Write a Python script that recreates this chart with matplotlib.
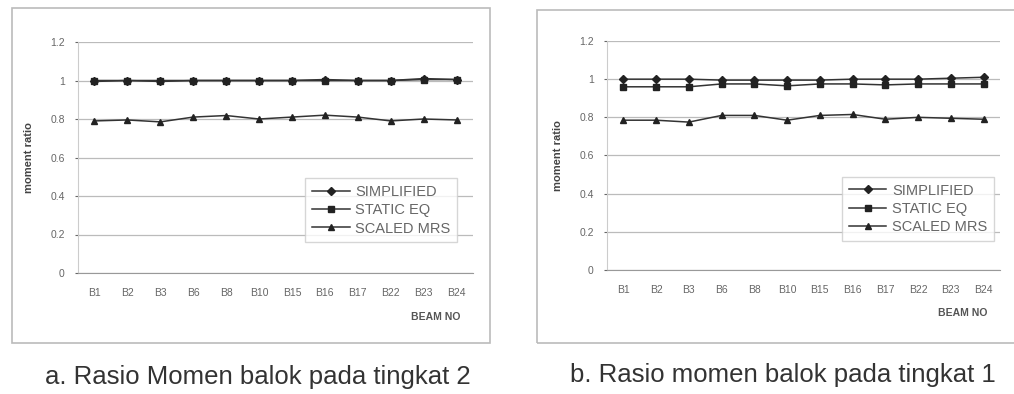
import numpy as np
import matplotlib
matplotlib.use("Agg")
import matplotlib.pyplot as plt
from matplotlib.patches import Rectangle

plt.rcParams['font.family'] = ['Liberation Sans', 'DejaVu Sans']

beams = ['B1', 'B2', 'B3', 'B6', 'B8', 'B10', 'B15', 'B16', 'B17', 'B22', 'B23', 'B24']
series_names = ['SIMPLIFIED', 'STATIC EQ', 'SCALED MRS']

# tingkat 2 (left)
simplified_2 = [1.00, 1.00, 1.00, 1.00, 1.00, 1.00, 1.00, 1.005, 1.00, 1.00, 1.01, 1.005]
static_2 = [0.995, 1.00, 0.995, 1.00, 1.00, 1.00, 1.00, 1.00, 1.00, 1.00, 1.005, 1.005]
scaled_2 = [0.79, 0.795, 0.785, 0.81, 0.818, 0.80, 0.81, 0.82, 0.81, 0.79, 0.80, 0.795]

# tingkat 1 (right)
simplified_1 = [1.00, 1.00, 1.00, 0.995, 0.995, 0.995, 0.995, 1.00, 1.00, 1.00, 1.005, 1.01]
static_1 = [0.96, 0.96, 0.96, 0.975, 0.975, 0.965, 0.975, 0.975, 0.97, 0.975, 0.975, 0.975]
scaled_1 = [0.785, 0.785, 0.775, 0.81, 0.81, 0.785, 0.81, 0.815, 0.79, 0.80, 0.795, 0.79]

captions = ['a. Rasio Momen balok pada tingkat 2', 'b. Rasio momen balok pada tingkat 1']
W, H = 1014, 394


def px_axes(fig, x0, y0, x1, y1):
    return fig.add_axes([x0 / W, (H - y1) / H, (x1 - x0) / W, (y1 - y0) / H])


def draw_panel(ax, data, legend_pos, beam_y):
    x = np.arange(len(beams))
    markers = ['D', 's', '^']
    for vals, name, m in zip(data, series_names, markers):
        ax.plot(x, vals, color='#333333', lw=1.1, marker=m, ms=4.5,
                mfc='#222222', mec='#222222', label=name)
    ax.set_xlim(-0.5, len(beams) - 0.5)
    ax.set_ylim(0, 1.2)
    ax.set_yticks(np.arange(0, 1.21, 0.2))
    ax.set_yticklabels(['0', '0.2', '0.4', '0.6', '0.8', '1', '1.2'])
    ax.set_xticks(x)
    ax.set_xticklabels(beams)
    ax.grid(axis='y', color='#bbbbbb', lw=0.9)
    ax.set_axisbelow(True)
    for s in ['top', 'right']:
        ax.spines[s].set_visible(False)
    ax.spines['left'].set_color('#cccccc')
    ax.spines['bottom'].set_color('#999999')
    ax.tick_params(axis='y', labelsize=7.5, colors='#666666', length=2.5, pad=7)
    ax.tick_params(axis='x', labelsize=7.5, colors='#666666', length=0, pad=11)
    ax.set_ylabel('moment ratio', fontsize=8, color='#444444', fontweight='bold', labelpad=12)
    ax.text(0.968, beam_y, 'BEAM NO', transform=ax.transAxes, ha='right', va='center',
            fontsize=7.5, fontweight='bold', color='#555555')
    leg = ax.legend(loc='upper left', bbox_to_anchor=legend_pos, fontsize=10.5,
                    frameon=True, fancybox=False, edgecolor='#cccccc',
                    handlelength=2.6, labelspacing=0.3, borderpad=0.45,
                    handletextpad=0.4, borderaxespad=0)
    for t in leg.get_texts():
        t.set_color('#666666')


fig = plt.figure(figsize=(W / 100, H / 100), dpi=100)
fig.patch.set_facecolor('white')

# chart frames
fig.patches.append(Rectangle((12 / W, (H - 343) / H), (490 - 12) / W, (343 - 8) / H,
                             transform=fig.transFigure, fill=False, ec='#bbbbbb', lw=1.2))
fig.patches.append(Rectangle((537 / W, (H - 343) / H), (1020 - 537) / W, (343 - 10) / H,
                             transform=fig.transFigure, fill=False, ec='#bbbbbb', lw=1.2))

ax1 = px_axes(fig, 78, 42, 473, 273)
draw_panel(ax1, [simplified_2, static_2, scaled_2], (0.575, 0.41), -0.19)
ax2 = px_axes(fig, 607, 41, 1000, 270)
draw_panel(ax2, [simplified_1, static_1, scaled_1], (0.598, 0.406), -0.188)

fig.text(258 / W, 1 - 377 / H, captions[0], ha='center', va='center', fontsize=18.5, color='#333333')
fig.text(783 / W, 1 - 375 / H, captions[1], ha='center', va='center', fontsize=18.5, color='#333333')

fig.savefig('out.png', dpi=100)
